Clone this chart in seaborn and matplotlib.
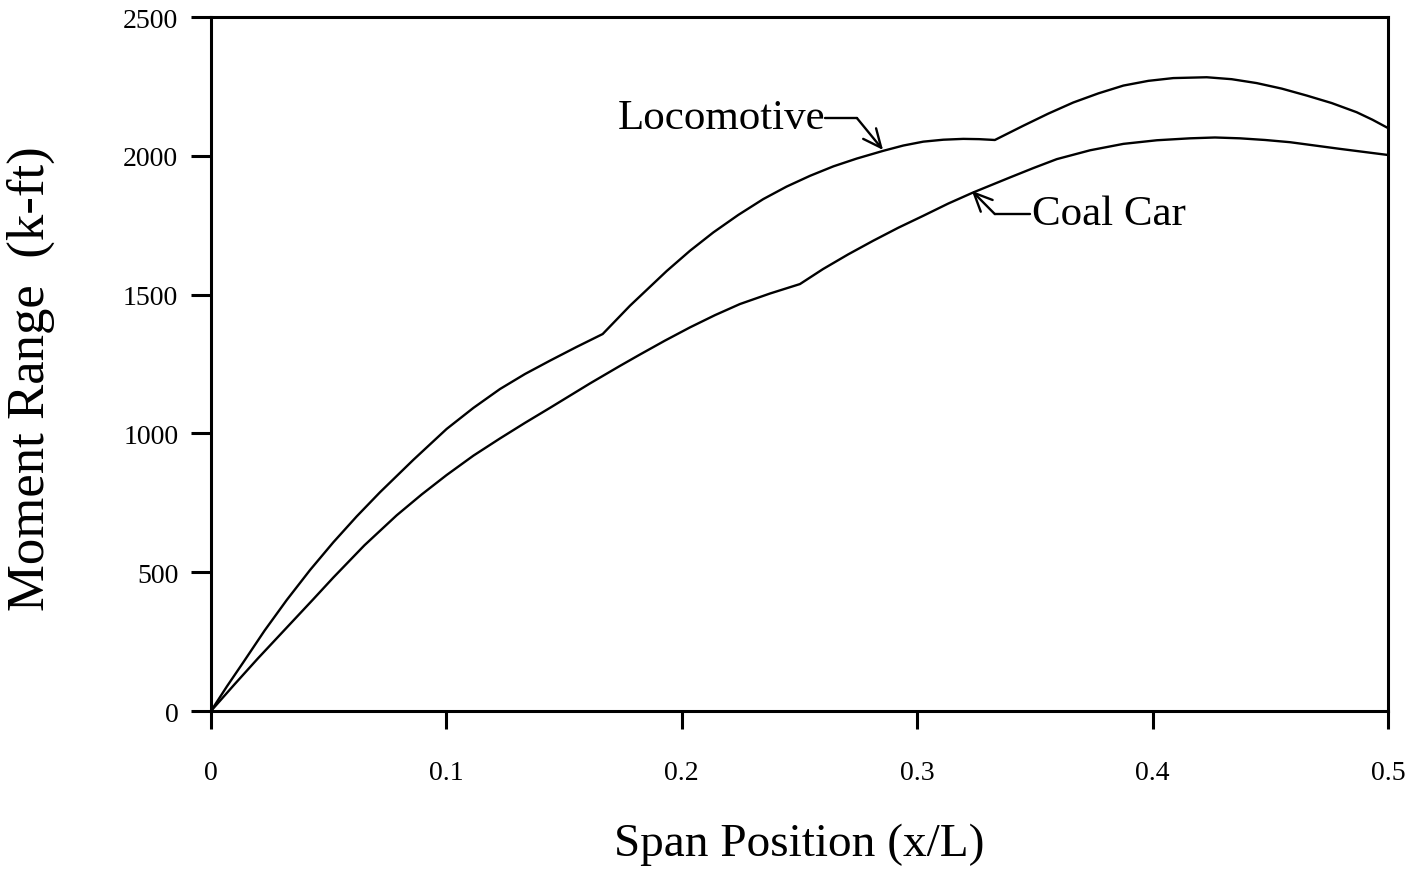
import matplotlib
matplotlib.use("Agg")
import matplotlib.pyplot as plt
import seaborn as sns
import pandas as pd

# ---- data ----
loco_x = [0, 0.0068, 0.0137, 0.0228, 0.0322, 0.0421, 0.052, 0.0619, 0.0718, 0.0860,
          0.1001, 0.1115, 0.1228, 0.1334, 0.144, 0.1552, 0.1664, 0.178, 0.1936, 0.2035,
          0.2134, 0.2240, 0.2346, 0.2445, 0.2545, 0.2644, 0.2743, 0.2856, 0.2941, 0.3026,
          0.3111, 0.3196, 0.3263, 0.333, 0.345, 0.3557, 0.3663, 0.377, 0.3876, 0.3982,
          0.4088, 0.423, 0.4336, 0.4442, 0.4549, 0.4655, 0.4761, 0.4867, 0.4934, 0.5]
loco_y = [0, 89, 175, 290, 400, 508, 608, 701, 788, 905,
          1016, 1092, 1160, 1214, 1262, 1311, 1358, 1460, 1585, 1658,
          1724, 1787, 1844, 1889, 1928, 1962, 1990, 2018, 2037, 2051,
          2058, 2061, 2060, 2057, 2108, 2152, 2192, 2225, 2253, 2270,
          2280, 2283, 2276, 2262, 2242, 2217, 2190, 2157, 2130, 2100]

coal_x = [0, 0.0100, 0.0200, 0.0435, 0.052, 0.0652, 0.0789, 0.0895, 0.1001, 0.1115,
          0.1228, 0.1334, 0.144, 0.161, 0.1737, 0.1822, 0.1928, 0.2035, 0.2141, 0.2247,
          0.2375, 0.2502, 0.26, 0.2707, 0.2813, 0.2920, 0.3026, 0.3132, 0.3238, 0.3394,
          0.3494, 0.3593, 0.3735, 0.3876, 0.4018, 0.4159, 0.4265, 0.4371, 0.4478, 0.4584,
          0.4690, 0.4796, 0.5]
coal_y = [0, 96, 190, 403, 481, 597, 705, 780, 850, 920,
          982, 1038, 1092, 1180, 1243, 1284, 1334, 1382, 1426, 1466,
          1504, 1538, 1592, 1645, 1694, 1741, 1784, 1828, 1868, 1922,
          1956, 1988, 2020, 2043, 2056, 2063, 2066, 2063, 2057, 2049,
          2037, 2025, 2003]

x_ticks = [0, 0.1, 0.2, 0.3, 0.4, 0.5]
x_tick_labels = ["0", "0.1", "0.2", "0.3", "0.4", "0.5"]
y_ticks = [0, 500, 1000, 1500, 2000, 2500]
y_tick_labels = ["0", "500", "1000", "1500", "2000", "2500"]

# annotation anchors (data coords)
loco_label = "Locomotive"
loco_text_end = (0.2608, 2136)
loco_corner = (0.2744, 2136)
loco_tip = (0.2855, 2021)

coal_label = "Coal Car"
coal_text_start = (0.3479, 1790)
coal_corner = (0.3330, 1790)
coal_tip = (0.3232, 1874)

# ---- style ----
sns.set_theme(style="white")
plt.rcParams["font.family"] = ["Liberation Serif", "DejaVu Serif"]

fig = plt.figure(figsize=(14.14, 8.70), dpi=100)
ax = fig.add_axes([0.1492, 0.1816, 0.9816 - 0.1492, 0.9793 - 0.1816])

df_loco = pd.DataFrame({"x": loco_x, "y": loco_y})
df_coal = pd.DataFrame({"x": coal_x, "y": coal_y})
sns.lineplot(data=df_loco, x="x", y="y", ax=ax, color="black", linewidth=1.7, sort=False)
sns.lineplot(data=df_coal, x="x", y="y", ax=ax, color="black", linewidth=1.7, sort=False)

ax.set_xlim(0, 0.5)
ax.set_ylim(0, 2500)
ax.set_xticks(x_ticks)
ax.set_xticklabels(x_tick_labels)
ax.set_yticks(y_ticks)
ax.set_yticklabels(y_tick_labels)

for s in ax.spines.values():
    s.set_visible(True)
    s.set_color("black")
    s.set_linewidth(2.2)

ax.tick_params(axis="x", which="major", direction="out", length=13, width=2.2,
               bottom=True, top=False, labelsize=20, pad=22, colors="black")
ax.tick_params(axis="y", which="major", direction="out", length=14.5, width=2.2,
               left=True, right=False, labelsize=20, pad=9, colors="black")

ax.set_xlabel("Span Position (x/L)", fontsize=34, color="black")
ax.set_ylabel("Moment Range  (k-ft)", fontsize=38, color="black")
ax.xaxis.set_label_coords(0.5, -0.160)
ax.yaxis.set_label_coords(-0.1325, 0.481)

arrow_style = "->,head_length=1.1,head_width=0.5"

# Locomotive annotation
ax.text(loco_text_end[0], loco_text_end[1], loco_label, fontsize=31,
        ha="right", va="center", color="black")
ax.plot([loco_text_end[0], loco_corner[0]], [loco_text_end[1], loco_corner[1]],
        color="black", linewidth=1.7)
ax.annotate("", xy=loco_tip, xytext=loco_corner,
            arrowprops=dict(arrowstyle=arrow_style,
                            color="black", linewidth=1.7, shrinkA=0, shrinkB=0))

# Coal Car annotation
ax.text(coal_text_start[0] + 0.001, coal_text_start[1], coal_label, fontsize=31,
        ha="left", va="center", color="black")
ax.plot([coal_text_start[0], coal_corner[0]], [coal_text_start[1], coal_corner[1]],
        color="black", linewidth=1.7)
ax.annotate("", xy=coal_tip, xytext=coal_corner,
            arrowprops=dict(arrowstyle=arrow_style,
                            color="black", linewidth=1.7, shrinkA=0, shrinkB=0))

fig.savefig("out.png", dpi=100, facecolor="white")
